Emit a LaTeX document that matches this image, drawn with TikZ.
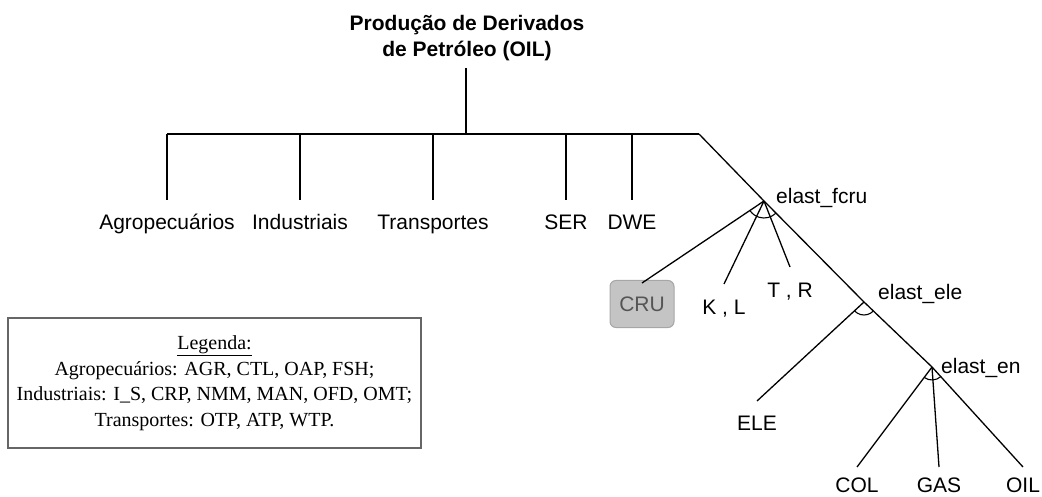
\documentclass[tikz,border=0pt]{standalone}
\usepackage{fontspec}
\setmainfont{Liberation Sans}
\newfontfamily\legfont{Liberation Serif}
\usetikzlibrary{calc}
\definecolor{crufill}{HTML}{C4C4C4}
\definecolor{cruline}{HTML}{A6A6A6}
\definecolor{crutext}{HTML}{555555}
\definecolor{legline}{HTML}{666666}
\begin{document}
\begin{tikzpicture}[x=1pt,y=-1pt,
  tree/.style={line width=1.3pt,black},
  lbl/.style={font=\fontsize{21}{25}\selectfont,inner sep=0pt,anchor=base},
  elab/.style={font=\fontsize{21}{25}\selectfont,inner sep=0pt,anchor=base west},
  legtxt/.style={font=\legfont\fontsize{20}{25.5}\selectfont,align=center,inner sep=0pt}]
\useasboundingbox (0,0) rectangle (1042,497);
% title
\node[font=\bfseries\fontsize{21}{26}\selectfont,align=center,inner sep=0pt] (title) at (467,38) {Produção de Derivados\\de Petróleo (OIL)};
\coordinate (tb) at (466,68);
\coordinate (hub) at (466,134);
\coordinate (hl) at (167,134);
\coordinate (hr) at (699,134);
\draw[tree] (tb) -- (hub);
\draw[tree] (hl) -- (hr);
% top-level branches
\foreach \n/\x/\t in {agr/167/Agropecuários, ind/300/Industriais, trn/433/Transportes, ser/566/SER, dwe/632/DWE}{
  \coordinate (\n top) at (\x,134);
  \coordinate (\n end) at (\x,200);
  \node[lbl] (\n) at (\x,230) {\t};
  \draw[tree] (\n top) -- (\n end);
}
% diagonal
\coordinate (J1) at (764,201);
\coordinate (J2) at (864,302);
\coordinate (J3) at (932,367);
\coordinate (oilend) at (1023,467);
\draw[tree] (hr) -- (J1) -- (J2) -- (J3) -- (oilend);
% fcru level
\node[elab] (efcru) at (776,204) {elast\_fcru};
\node[draw=cruline,fill=crufill,rounded corners=6pt,minimum width=64pt,minimum height=47pt,inner sep=0pt,line width=1pt,text=crutext,font=\fontsize{21}{25}\selectfont] (cru) at (642,304) {CRU};
\coordinate (cruend) at (642,283);
\coordinate (klend) at (724,284);
\coordinate (trend) at (790,267);
\node[lbl] (kl) at (724,314) {K , L};
\node[lbl] (tr) at (790,298) {T , R};
\draw[tree] (J1) -- (cruend);
\draw[tree] (J1) -- (klend);
\draw[tree] (J1) -- (trend);
\draw[tree,line width=1.1pt] (J1) ++(45.8:17) arc[start angle=45.8,end angle=145.8,radius=17];
% ele level
\node[elab] (eele) at (878,299) {elast\_ele};
\coordinate (eleend) at (757,401);
\node[lbl] (ele) at (757,430) {ELE};
\draw[tree] (J2) -- (eleend);
\draw[tree,line width=1.1pt] (J2) ++(45.5:13) arc[start angle=45.5,end angle=137.2,radius=13];
% en level
\node[elab] (een) at (941,373) {elast\_en};
\coordinate (colend) at (857,467);
\coordinate (gasend) at (939,467);
\node[lbl,text depth=0pt] (col) at (857,492) {COL};
\node[lbl,text depth=0pt] (gas) at (939,492) {GAS};
\node[lbl,text depth=0pt] (oil) at (1023,492) {OIL};
\draw[tree] (J3) -- (colend);
\draw[tree] (J3) -- (gasend);
\draw[tree,line width=1.1pt] (J3) ++(47.7:13) arc[start angle=47.7,end angle=126.9,radius=13];
% legend
\node[draw=legline,line width=1.3pt,minimum width=413pt,minimum height=130pt,inner sep=0pt] (legbox) at (214.5,383) {};
\node[legtxt] (leg) at (214.5,383) {\underline{Legenda:}\\Agropecuários: AGR, CTL, OAP, FSH;\\Industriais: I\_S, CRP, NMM, MAN, OFD, OMT;\\Transportes: OTP, ATP, WTP.};
\end{tikzpicture}
\end{document}
